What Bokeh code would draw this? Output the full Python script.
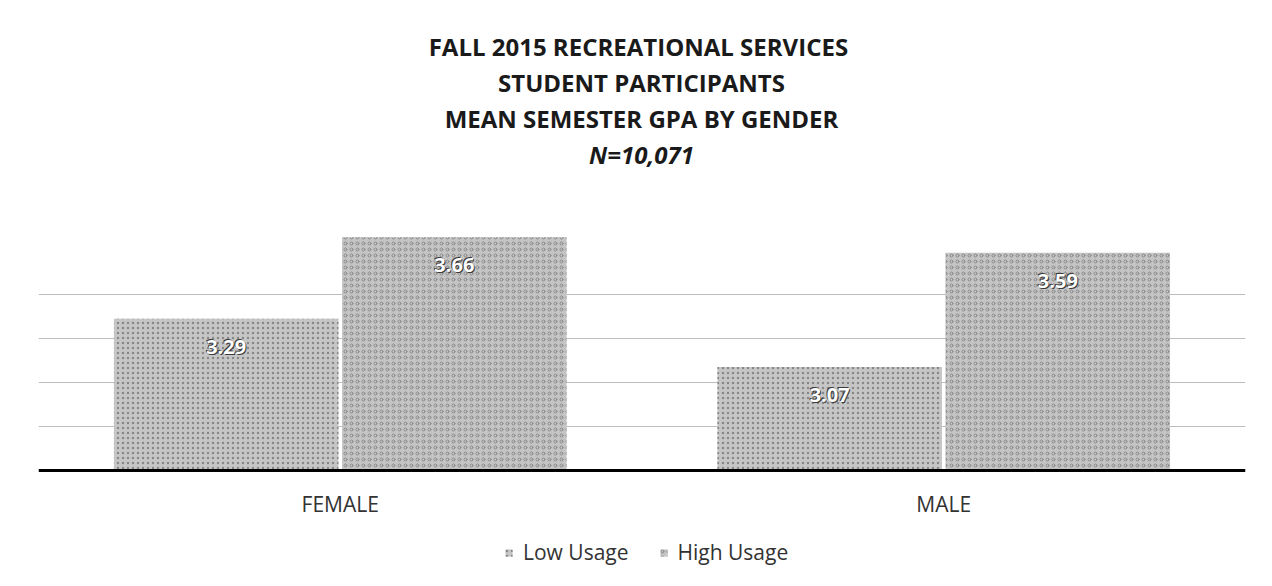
from bokeh.plotting import figure
from bokeh.models import (ColumnDataSource, FactorRange, Range1d, Label, Legend,
                          LegendItem, FixedTicker, Span)
from bokeh.transform import dodge
from bokeh.core.properties import value
from bokeh.embed import file_html
from bokeh.resources import INLINE

# ---------------- data ----------------
genders = ["FEMALE", "MALE"]
low_usage = [3.29, 3.07]
high_usage = [3.66, 3.59]
series_names = ["Low Usage", "High Usage"]
title_lines = ["FALL 2015  RECREATIONAL SERVICES", "STUDENT PARTICIPANTS",
               "MEAN SEMESTER GPA BY GENDER", "N=10,071"]
y_ticks = [2.8, 3.0, 3.2, 3.4]
y_min = 2.6

FONT = "Open Sans"

src = ColumnDataSource(dict(
    gender=genders,
    low=low_usage,
    high=high_usage,
    base=[y_min] * len(genders),
    low_lbl=[f"{v:.2f}" for v in low_usage],
    high_lbl=[f"{v:.2f}" for v in high_usage],
))

# frame covers the full height; 220 px per GPA unit, baseline 116 px above bottom
W, H = 1272, 586
PX = 220.0
BASE = 116
p = figure(width=W, height=H, output_backend="svg", toolbar_location=None,
           x_range=FactorRange(*genders, range_padding=0),
           y_range=Range1d(y_min - BASE / PX, y_min + (H - BASE) / PX),
           x_axis_location=None, y_axis_location=None,
           min_border_left=38, min_border_right=27, min_border_top=0,
           min_border_bottom=0)
p.outline_line_color = None
p.background_fill_color = "white"

p.ygrid.ticker = FixedTicker(ticks=y_ticks)
p.ygrid.grid_line_color = "#bdbdbd"
p.ygrid.grid_line_width = 1
p.xgrid.grid_line_color = None

bar_w = 0.372
off = 0.189
r_low = p.vbar(x=dodge("gender", -off, range=p.x_range), top="low", bottom=y_min,
               width=bar_w, source=src, fill_color="#c6c6c6", line_color=None,
               hatch_pattern="dot", hatch_color="#888888", hatch_scale=5, hatch_weight=1)
r_high = p.vbar(x=dodge("gender", off, range=p.x_range), top="high", bottom=y_min,
                width=bar_w, source=src, fill_color="#c4c4c4", line_color=None,
                hatch_pattern="ring", hatch_color="#888888", hatch_scale=6, hatch_weight=1)

# category baseline
p.add_layout(Span(location=y_min, dimension="width", line_color="black", line_width=3))

# category labels
p.text(x="gender", y="base", text="gender", source=src, y_offset=33,
       text_align="center", text_baseline="middle", text_font=value(FONT),
       text_font_size="21px", text_color="#333333")

# data labels (white with dark shadow)
for col, lbl in (("low", "low_lbl"), ("high", "high_lbl")):
    d = -off if col == "low" else off
    for dx, dy, c in ((1, 1, "#3a3a3a"), (-1, -1, "#3a3a3a"), (0, 0, "white")):
        p.text(x=dodge("gender", d, range=p.x_range), y=col, text=lbl, source=src,
               x_offset=dx, y_offset=28 + dy, text_align="center",
               text_baseline="middle", text_font=value(FONT),
               text_font_size="20px", text_font_style="bold", text_color=c)

# title lines
ys = [540, 504, 468, 432]
for i, (t, yy) in enumerate(zip(title_lines, ys)):
    p.add_layout(Label(x=603, y=yy, x_units="screen", y_units="screen", text=t,
                       text_align="center", text_baseline="middle",
                       text_font=FONT, text_font_size="24px",
                       text_font_style="bold italic" if i == 3 else "bold",
                       text_color="#1a1a1a"))

# legend
legend = Legend(items=[LegendItem(label=series_names[0], renderers=[r_low]),
                       LegendItem(label=series_names[1], renderers=[r_high])],
                orientation="horizontal", location=(466, 20),
                label_text_font=FONT, label_text_font_size="21px",
                label_text_color="#333333", glyph_width=9, glyph_height=9,
                label_standoff=10, spacing=30, border_line_color=None,
                background_fill_alpha=0, padding=0, margin=0)
p.add_layout(legend, "center")

open("out.html", "w").write(file_html(p, INLINE))
